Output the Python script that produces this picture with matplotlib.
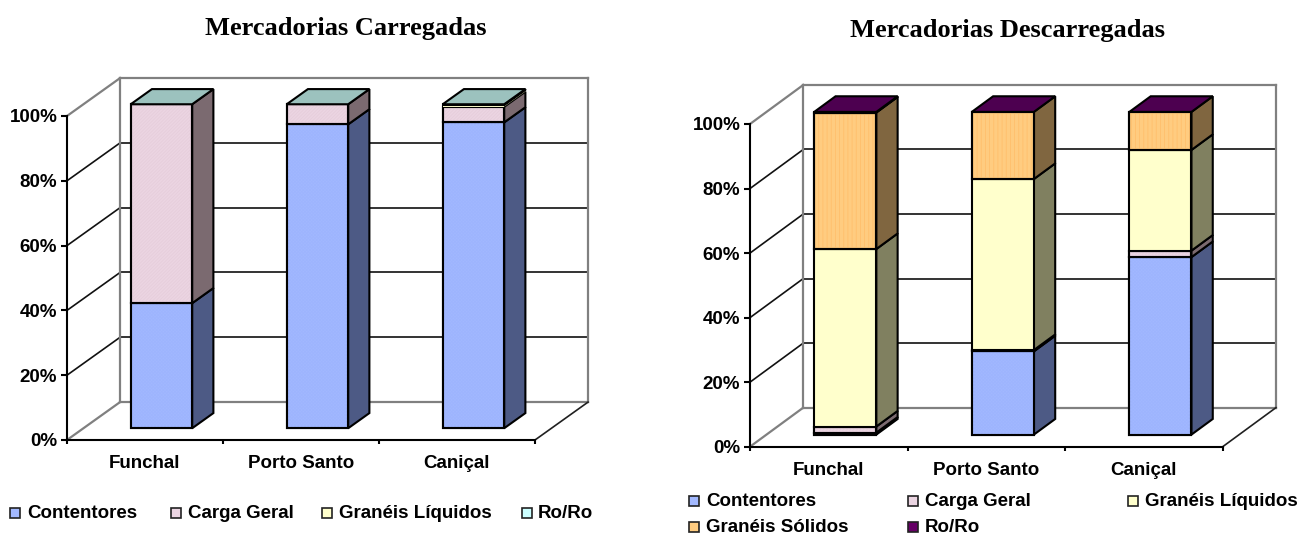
import matplotlib
matplotlib.use("Agg")
import matplotlib.pyplot as plt
from matplotlib.patches import Polygon, Rectangle

W, H = 1301, 533
SANS = "Liberation Sans"
SERIF = "Liberation Serif"

plt.rcParams["hatch.linewidth"] = 0.6

categories = ["Funchal", "Porto Santo", "Caniçal"]
y_ticks = [0, 20, 40, 60, 80, 100]

# Left chart (% by port)
left_series = ["Contentores", "Carga Geral", "Granéis Líquidos", "Ro/Ro"]
left_contentores = [38.6, 93.8, 94.4]
left_carga = [61.4, 6.2, 4.8]
left_liquidos = [0.0, 0.0, 0.6]
left_roro = [0.0, 0.0, 0.2]

# Right chart (% by port)
right_series = ["Contentores", "Carga Geral", "Granéis Líquidos", "Granéis Sólidos", "Ro/Ro"]
right_contentores = [0.6, 25.8, 55.0]
right_carga = [1.9, 0.4, 2.0]
right_liquidos = [55.0, 53.0, 31.2]
right_solidos = [42.3, 20.8, 11.8]
right_roro = [0.2, 0.0, 0.0]

STYLE = {
    "Contentores": ("#A3B9FF", "#4D5A85"),
    "Carga Geral": ("#EBD5E2", "#7B6A70"),
    "Granéis Líquidos": ("#FFFFCC", "#808060"),
    "Granéis Sólidos": ("#FFCC80", "#806640"),
}
HATCH = {
    "Contentores": ("xxxxxxxxxx", "#9DB4FE"),
    "Carga Geral": ("//////////", "#E6CDDB"),
    "Granéis Sólidos": ("||||", "#FFBF6C"),
}
RORO = {"left": ("#CCFFFF", "#9CC2BE"), "right": ("#660066", "#4D0050")}
LINE = 1.5
GREY = "#808080"

fig = plt.figure(figsize=(W / 100, H / 100), dpi=100, facecolor="white")


def axes_px(x0, y0, x1, y1):
    return fig.add_axes([x0 / W, 1 - y1 / H, (x1 - x0) / W, (y1 - y0) / H])


def chart(box, depth, series, values, roro, title, title_x, title_y):
    ax = axes_px(*box)
    ax.set_xlim(0, len(categories))
    ax.set_ylim(0, 100)
    ax.patch.set_visible(False)
    dx, dy = depth

    def proj(x, y, f):
        return (x + dx * f, y + dy * f)

    def poly(pts, fc="none", ec="black", z=3, lw=LINE):
        ax.add_patch(Polygon(pts, closed=True, facecolor=fc, edgecolor=ec, lw=lw,
                             zorder=z, clip_on=False, joinstyle="miter"))

    xmax = len(categories)
    # walls
    for t in y_ticks:
        c = GREY if t in (0, 100) else "#111111"
        lw = 1.6 if t in (0, 100) else 1.2
        ax.plot(*zip(proj(0, t, 0), proj(0, t, 1)), color=c, lw=lw, clip_on=False, zorder=1)
        ax.plot(*zip(proj(0, t, 1), proj(xmax, t, 1)), color=c, lw=lw, clip_on=False, zorder=1)
    ax.plot(*zip(proj(0, 0, 1), proj(0, 100, 1)), color=GREY, lw=1.6, clip_on=False, zorder=1)
    ax.plot(*zip(proj(xmax, 0, 1), proj(xmax, 100, 1)), color=GREY, lw=1.6, clip_on=False, zorder=1)
    ax.plot(*zip(proj(xmax, 0, 0), proj(xmax, 0, 1)), color="#202020", lw=1.2, clip_on=False, zorder=1)

    # bars
    hw, f0, f1 = 0.197, 0.31, 0.71
    for i in range(len(categories)):
        xl, xr = i + 0.5 - hw, i + 0.5 + hw
        base = 0.0
        for name, vals in zip(series, values):
            v = vals[i]
            front, dark = STYLE.get(name, roro)
            if v > 0:
                # a sliver of liquid bulk shows only as a coloured stripe
                ec = "none" if (name == "Granéis Líquidos" and v < 1) else "black"
                side = [proj(xr, base, f0), proj(xr, base, f1),
                        proj(xr, base + v, f1), proj(xr, base + v, f0)]
                face = [proj(xl, base, f0), proj(xr, base, f0),
                        proj(xr, base + v, f0), proj(xl, base + v, f0)]
                poly(side, fc=dark, ec=ec)
                poly(face, fc=front, ec=ec)
                if name in HATCH:
                    pat, col = HATCH[name]
                    ax.add_patch(Polygon(face, closed=True, facecolor="none", edgecolor=col,
                                         hatch=pat, lw=0, zorder=3, clip_on=False))
                    poly(face, ec="black")
            base += v
        poly([proj(xl, 100, f0), proj(xr, 100, f0),
              proj(xr, 100, f1), proj(xl, 100, f1)], fc=roro[1])

    # axes
    for s in ("top", "right"):
        ax.spines[s].set_visible(False)
    for s in ("left", "bottom"):
        ax.spines[s].set_linewidth(1.5)
        ax.spines[s].set_zorder(5)
    ax.set_yticks(y_ticks)
    ax.set_yticklabels([f"{t}%" for t in y_ticks], fontfamily=SANS, fontweight="bold", fontsize=13.5)
    ax.set_xticks(range(xmax + 1))
    ax.set_xticklabels([])
    ax.set_xticks([i + 0.5 for i in range(xmax)], minor=True)
    ax.set_xticklabels(categories, minor=True, fontfamily=SANS, fontweight="bold", fontsize=13.5)
    ax.tick_params(axis="x", which="minor", length=0, pad=11)
    ax.tick_params(axis="x", which="major", length=3, width=1.5, direction="out")
    ax.tick_params(axis="y", length=4, width=1.5, pad=3)
    fig.text(title_x / W, 1 - title_y / H, title, ha="center", va="center",
             fontfamily=SERIF, fontweight="bold", fontsize=19)


def legend(items):
    for name, fc, sx, tx, y in items:
        fig.add_artist(Rectangle((sx / W, 1 - (y + 5) / H), 10 / W, 10 / H,
                                 transform=fig.transFigure, facecolor=fc,
                                 edgecolor="#222222", lw=1.2))
        fig.text(tx / W, 1 - y / H, name, ha="left", va="center",
                 fontfamily=SANS, fontweight="bold", fontsize=13.5)


chart((67, 116, 535, 440), (0.34, 11.7), left_series,
      [left_contentores, left_carga, left_liquidos, left_roro],
      RORO["left"], "Mercadorias Carregadas", 346, 28)
chart((750, 124, 1222.7, 446.7), (0.338, 12.1), right_series,
      [right_contentores, right_carga, right_liquidos, right_solidos, right_roro],
      RORO["right"], "Mercadorias Descarregadas", 1007, 30)

legend([
    ("Contentores", STYLE["Contentores"][0], 10, 27, 513),
    ("Carga Geral", STYLE["Carga Geral"][0], 171, 188, 513),
    ("Granéis Líquidos", STYLE["Granéis Líquidos"][0], 322, 339, 513),
    ("Ro/Ro", RORO["left"][0], 522, 538, 513),
    ("Contentores", STYLE["Contentores"][0], 689, 706, 501),
    ("Carga Geral", STYLE["Carga Geral"][0], 908, 925, 501),
    ("Granéis Líquidos", STYLE["Granéis Líquidos"][0], 1128, 1145, 501),
    ("Granéis Sólidos", STYLE["Granéis Sólidos"][0], 689, 706, 527),
    ("Ro/Ro", RORO["right"][0], 908, 925, 527),
])

fig.savefig("out.png", dpi=100)
